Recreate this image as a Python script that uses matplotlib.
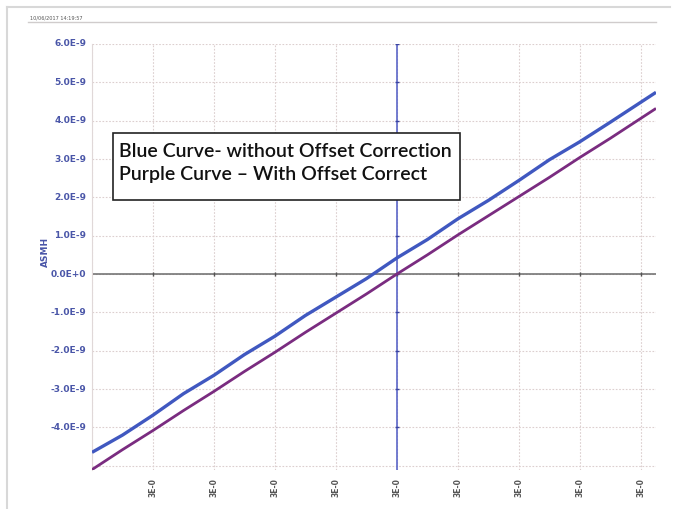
import numpy as np
import matplotlib
matplotlib.use("Agg")
import matplotlib.pyplot as plt
from matplotlib.lines import Line2D
from matplotlib.patches import Rectangle

# x positions (grid units)
x_pts = [-5.0, -4.5, -4.0, -3.5, -3.0, -2.5, -2.0, -1.5, -1.0, -0.5, 0.0,
         0.5, 1.0, 1.5, 2.0, 2.5, 3.0, 3.5, 4.0, 4.25]
# blue curve - without offset correction
blue_vals = [-4.65e-9, -4.20e-9, -3.68e-9, -3.12e-9, -2.64e-9, -2.10e-9, -1.62e-9,
             -1.08e-9, -0.60e-9, -0.12e-9, 0.42e-9, 0.90e-9, 1.44e-9, 1.92e-9,
             2.44e-9, 2.98e-9, 3.45e-9, 3.96e-9, 4.48e-9, 4.74e-9]
# purple curve - with offset correction
purple_vals = [-5.10e-9, -4.58e-9, -4.08e-9, -3.56e-9, -3.06e-9, -2.54e-9, -2.04e-9,
               -1.52e-9, -1.02e-9, -0.52e-9, 0.0e-9, 0.50e-9, 1.02e-9, 1.52e-9,
               2.02e-9, 2.52e-9, 3.04e-9, 3.54e-9, 4.06e-9, 4.32e-9]

y_ticks = [-4e-9, -3e-9, -2e-9, -1e-9, 0.0, 1e-9, 2e-9, 3e-9, 4e-9, 5e-9, 6e-9]
y_labels = ["-4.0E-9", "-3.0E-9", "-2.0E-9", "-1.0E-9", "0.0E+0", "1.0E-9",
            "2.0E-9", "3.0E-9", "4.0E-9", "5.0E-9", "6.0E-9"]
x_ticks = [-4, -3, -2, -1, 0, 1, 2, 3, 4]
x_labels = ["3E-0"] * len(x_ticks)

W, H = 676, 509
fig = plt.figure(figsize=(W / 100, H / 100), dpi=100)
fig.patch.set_facecolor("white")

# outer frame lines
fig.add_artist(Line2D([7 / W, 7 / W], [0, 1 - 7 / H], color="#d8d8d8", lw=1.5))
fig.add_artist(Line2D([7 / W, 670 / W], [1 - 7 / H, 1 - 7 / H], color="#d8d8d8", lw=1.5))
# inner panel top line
fig.add_artist(Line2D([28 / W, 656 / W], [1 - 22 / H, 1 - 22 / H], color="#d0cccc", lw=1.0))

fig.text(30 / W, 1 - 18 / H, "10/06/2017 14:19:57", fontsize=3.6, color="#555555",
         va="center", ha="left")

ax = fig.add_axes([92 / W, 1 - 470 / H, 564 / W, 426 / H])
ax.set_xlim(-5, 4.25)
ax.set_ylim(-5.11e-9, 6.0e-9)

ax.set_xticks(range(-5, 5))
ax.set_yticks(np.arange(-5e-9, 6.5e-9, 1e-9))
ax.grid(True, color="#dccfcf", linestyle=(0, (1.5, 1.5)), linewidth=0.8)
ax.tick_params(length=0, labelleft=False, labelbottom=False)
for s in ax.spines.values():
    s.set_visible(False)
ax.spines["left"].set_visible(True)
ax.spines["left"].set_color("#e0d8d8")

# zero axes
ax.axhline(0, color="#6a6a6a", lw=1.1, zorder=2)
ax.axvline(0, color="#5b66c8", lw=1.2, zorder=2)
ax.plot(x_ticks, [0] * len(x_ticks), "|", color="#555555", ms=3, zorder=2)
ax.plot([0] * len(y_ticks), y_ticks, "_", color="#3a44a0", ms=3, zorder=2)

ax.plot(x_pts, blue_vals, color="#4058c0", lw=2.4, zorder=3, solid_capstyle="butt")
ax.plot(x_pts, purple_vals, color="#7a2c80", lw=2.0, zorder=3, solid_capstyle="butt")

# tick labels drawn as text so they sit like the reference
for yv, lab in zip(y_ticks, y_labels):
    ax.annotate(lab, xy=(0, yv), xycoords=("axes fraction", "data"),
                xytext=(-4, 0), textcoords="offset points", ha="right", va="center",
                fontsize=6.5, color="#4a56a8", fontweight="bold")
for xv, lab in zip(x_ticks, x_labels):
    ax.annotate(lab, xy=(xv, 0), xycoords=("data", "axes fraction"),
                xytext=(0, -6), textcoords="offset points", ha="center", va="top",
                rotation=90, fontsize=5.5, color="#555555", fontweight="bold")

fig.text(45 / W, 1 - 252 / H, "ASMH", rotation=90, fontsize=6.5, color="#4a56a8",
         fontweight="bold", ha="center", va="center")

# note box
fig.add_artist(Rectangle((113 / W, 1 - 200 / H), 347 / W, 67 / H, transform=fig.transFigure,
                         facecolor="white", edgecolor="#222222", lw=1.2, zorder=5))
fig.text(119 / W, 1 - 163 / H,
         "Blue Curve- without Offset Correction\nPurple Curve \u2013 With Offset Correct",
         fontsize=14, family="Lato", fontweight="semibold", color="#111111",
         ha="left", va="center", linespacing=1.4, zorder=6)

fig.savefig("out.png", dpi=100)
